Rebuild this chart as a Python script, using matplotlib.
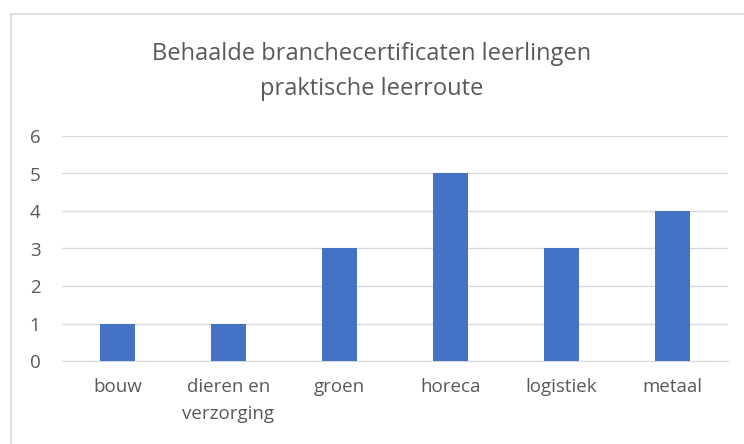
import numpy as np
import matplotlib.pyplot as plt
from matplotlib.lines import Line2D

categories = ["bouw", "dieren en\nverzorging", "groen", "horeca", "logistiek", "metaal"]
values = [1, 1, 3, 5, 3, 4]
yticks = [0, 1, 2, 3, 4, 5, 6]

plt.rcParams['font.family'] = ['Open Sans', 'DejaVu Sans']

W, H = 744, 444
fig = plt.figure(figsize=(W / 100, H / 100), dpi=100)
ax = fig.add_axes([62 / W, 1 - 361 / H, 666 / W, 225 / H])

x = np.arange(len(categories))
ax.bar(x, values, width=0.32, color='#4472C4', zorder=3)

ax.set_xlim(-0.5, len(categories) - 0.5)
ax.set_ylim(0, 6)
ax.set_yticks(yticks)
ax.set_xticks(x)
ax.set_xticklabels(categories, fontsize=13.5, color='#595959', va='top', linespacing=1.7)
ax.tick_params(axis='y', labelsize=13.5, labelcolor='#595959', length=0, pad=15.5)
ax.tick_params(axis='x', length=0, pad=12)
ax.grid(axis='y', color='#D9D9D9', linewidth=1, zorder=0)

for s in ['top', 'right', 'left']:
    ax.spines[s].set_visible(False)
ax.spines['bottom'].set_color('#D9D9D9')

fig.text(0.5, 1 - 71.5 / H, "Behaalde branchecertificaten leerlingen\npraktische leerroute",
         ha='center', va='center', fontsize=17, color='#595959', linespacing=1.6)

# chart border (only left and top edges are visible in the frame)
fig.lines.append(Line2D([10.5 / W, 10.5 / W], [0, 1 - 14.5 / H], transform=fig.transFigure,
                        color='#D9D9D9', linewidth=1.2))
fig.lines.append(Line2D([10.5 / W, 1], [1 - 14.5 / H, 1 - 14.5 / H], transform=fig.transFigure,
                        color='#D9D9D9', linewidth=1.2))

fig.savefig("out.png", dpi=100, facecolor='white')
